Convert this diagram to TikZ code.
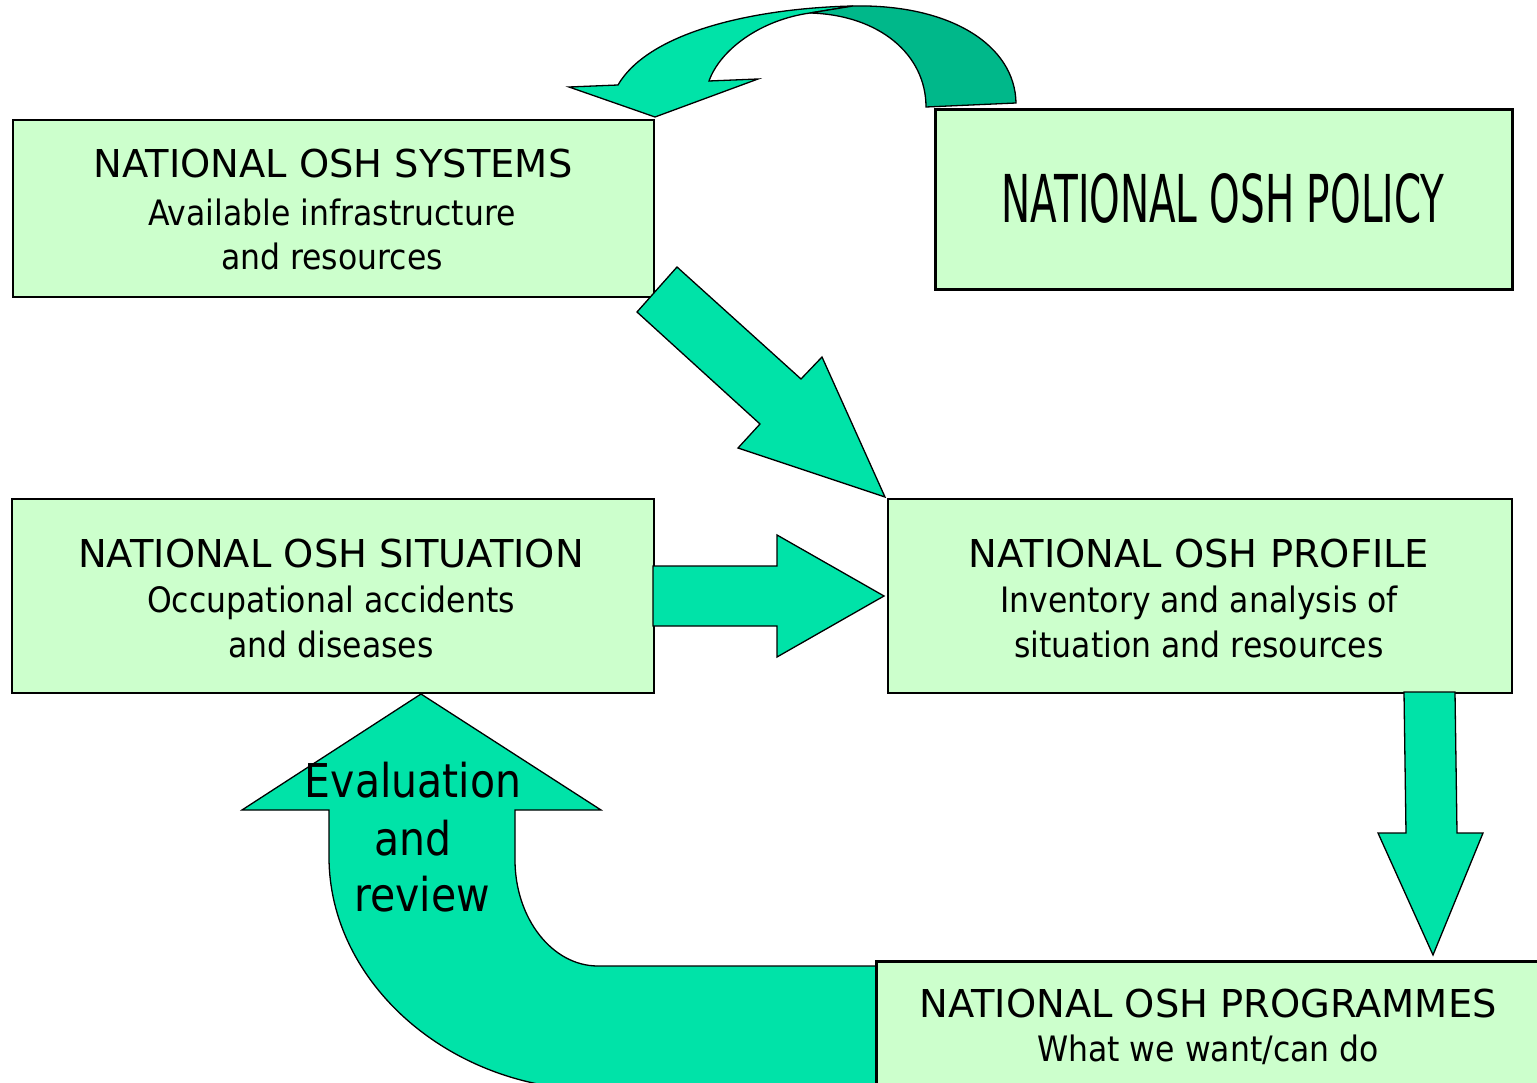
\documentclass[tikz,border=0pt]{standalone}
\usepackage{fontspec}
\setmainfont{DejaVu Sans}
\definecolor{boxfill}{HTML}{CCFFCC}
\definecolor{arrowfill}{HTML}{00E3A8}
\definecolor{arrowdark}{HTML}{00B88A}
\newcommand{\subline}[1]{\scalebox{0.9}[1]{#1}}
\begin{document}
\begin{tikzpicture}[x=1pt,y=-1pt,
  box/.style={draw=black, line width=2pt, fill=boxfill, rectangle, anchor=north west, inner sep=0pt},
  blockarrow/.style={draw=black, line width=1.3pt, fill=arrowfill, line join=miter},
  darkarrow/.style={draw=black, line width=1.3pt, fill=arrowdark, line join=miter},
  titletext/.style={anchor=base, font=\fontsize{38.4}{46}\selectfont, inner sep=0pt},
  subtext/.style={anchor=base, font=\fontsize{35}{40}\selectfont, inner sep=0pt},
  evaltext/.style={anchor=base, font=\fontsize{46.6}{57}\selectfont, inner sep=0pt}]
\useasboundingbox (0,0) rectangle (1537,1083);
\clip (0,0) rectangle (1537,1083);
\fill[white] (0,0) rectangle (1537,1083);

% top curved arrow (policy -> systems)
\path[blockarrow] (618,85) .. controls (650,30) and (760,8) .. (853,6)
  -- (810,13) .. controls (760,20) and (720,50) .. (709,81)
  -- (758,79) -- (655,117) -- (569,87) -- cycle;
\path[darkarrow] (853,6) .. controls (950,4) and (1015,45) .. (1016,103)
  -- (926,107) .. controls (926,55) and (880,15) .. (810,13) -- cycle;

% evaluation and review arrow (programmes -> situation)
\path[blockarrow] (329,810) -- (242,810) -- (421,694) -- (601,810) -- (515,810)
  -- (515,860) .. controls (515,918) and (552,966) .. (598,966)
  -- (890,966) -- (890,1090) -- (598,1090)
  .. controls (449,1090) and (329,982) .. (329,857) -- cycle;

% boxes
\node[box, minimum width=641pt, minimum height=177pt] (sys) at (12,119) {};
\node[box, line width=3pt, minimum width=577pt, minimum height=180pt] (pol) at (934,108) {};
\node[box, minimum width=642pt, minimum height=194pt] (sit) at (11,498) {};
\node[box, minimum width=624pt, minimum height=194pt] (prof) at (887,498) {};
\node[box, line width=2.5pt, minimum width=680pt, minimum height=140pt] (prog) at (875,960) {};

% diagonal arrow (systems -> profile)
\path[blockarrow] (677,267) -- (801,379) -- (822,357) -- (885,497) -- (738,448) -- (760,424) -- (637,312) -- cycle;
% right arrow (situation -> profile)
\path[blockarrow] (653,566) -- (777,566) -- (777,535) -- (884,596) -- (777,657) -- (777,626) -- (653,626) -- cycle;
% down arrow (profile -> programmes)
\path[blockarrow] (1404,692) -- (1455,692) -- (1457,833) -- (1483,833) -- (1433,955) -- (1378,833) -- (1406,833) -- cycle;

% texts
\node[titletext] (systitle) at (333,178) {NATIONAL OSH SYSTEMS};
\node[subtext] (syssub1) at (332,226) {\subline{Available infrastructure}};
\node[subtext] (syssub2) at (332,270) {\subline{and resources}};

\node[anchor=base, inner sep=0pt, font=\fontsize{66}{70}\selectfont] (poltitle) at (1223,223) {\scalebox{0.59}[1]{NATIONAL OSH POLICY}};

\node[titletext] (sittitle) at (331,567) {NATIONAL OSH SITUATION};
\node[subtext] (sitsub1) at (331,612) {\subline{Occupational accidents}};
\node[subtext] (sitsub2) at (331,657) {\subline{and diseases}};

\node[titletext] (proftitle) at (1199,567) {NATIONAL OSH PROFILE};
\node[subtext] (profsub1) at (1199,612) {\subline{Inventory and analysis of}};
\node[subtext] (profsub2) at (1199,657) {\subline{situation and resources}};

\node[titletext] (progtitle) at (1208,1017) {NATIONAL OSH PROGRAMMES};
\node[subtext] (progsub) at (1208,1061) {\subline{What we want/can do}};

\node[evaltext] (ev1) at (413,797) {\scalebox{0.88}[1]{Evaluation}};
\node[evaltext] (ev2) at (413,855) {\scalebox{0.88}[1]{and}};
\node[evaltext] (ev3) at (422,911) {\scalebox{0.88}[1]{review}};
\end{tikzpicture}
\end{document}
